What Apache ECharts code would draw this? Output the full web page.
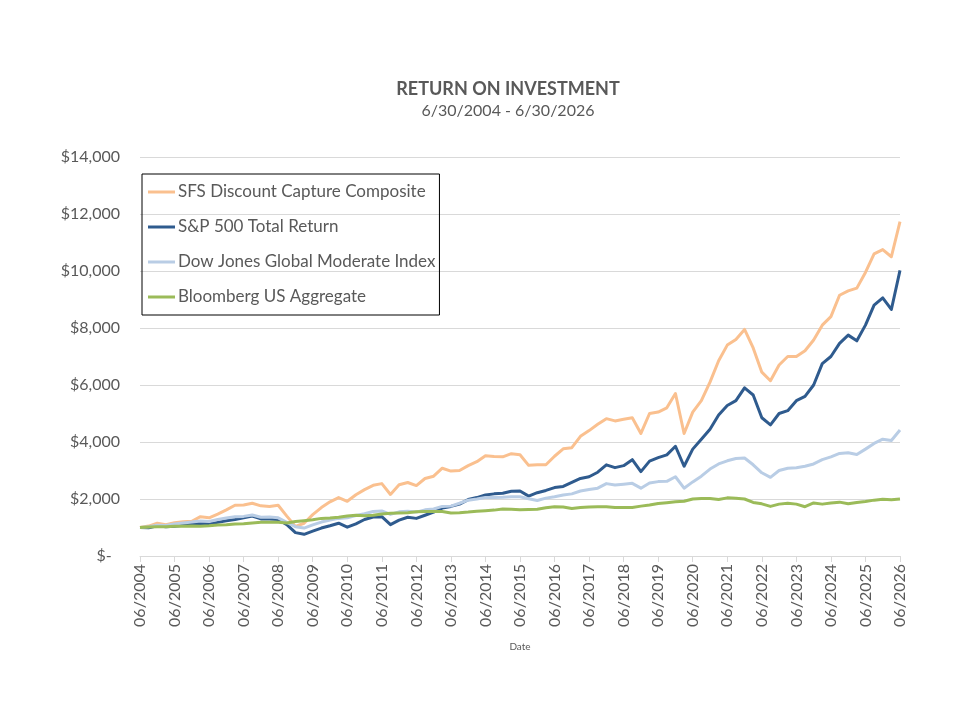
<!DOCTYPE html>
<html>
<head>
<meta charset="utf-8">
<title>Return on Investment</title>
<script src="https://cdn.jsdelivr.net/npm/echarts@6/dist/echarts.min.js"></script>
<style>
  html, body { margin: 0; padding: 0; background: #fff; }
  #chart { width: 960px; height: 720px; }
</style>
</head>
<body>
<div id="chart"></div>
<script>
// quarter-end dates, 06/2004 .. 06/2026
const dates = [];
for (let y = 2004, m = 6; y < 2026 || (y === 2026 && m <= 6); ) {
    dates.push(String(m).padStart(2, '0') + '/' + y);
    m += 3;
    if (m > 12) { m -= 12; y += 1; }
}

// growth of $1,000 (quarterly)
const sfsComposite = [
    1000, 1050,
    1150, 1100, 1170, 1200,   // 2005
    1220, 1380, 1340, 1470,   // 2006
    1620, 1780, 1790, 1850,   // 2007
    1760, 1740, 1780, 1400,   // 2008
    1040, 1150, 1450, 1700,   // 2009
    1900, 2050, 1920, 2150,   // 2010
    2330, 2480, 2540, 2160,   // 2011
    2500, 2580, 2470, 2720,   // 2012
    2800, 3080, 2980, 3000,   // 2013
    3170, 3310, 3520, 3490,   // 2014
    3480, 3590, 3550, 3180,   // 2015
    3200, 3200, 3500, 3760,   // 2016
    3800, 4200, 4400, 4620,   // 2017
    4820, 4740, 4800, 4850,   // 2018
    4300, 5000, 5050, 5200,   // 2019
    5700, 4300, 5050, 5450,   // 2020
    6100, 6850, 7400, 7600,   // 2021
    7950, 7300, 6450, 6150,   // 2022
    6700, 7000, 7000, 7200,   // 2023
    7580, 8100, 8400, 9150,   // 2024
    9300, 9400, 9950, 10600,  // 2025
    10750, 10500, 11730       // 2026
];
const sp500 = [
    1000, 990,
    1060, 1030, 1040, 1080,
    1110, 1140, 1120, 1180,
    1240, 1280, 1340, 1400,
    1300, 1300, 1280, 1100,
    820, 760, 870, 980,
    1060, 1150, 1010, 1130,
    1280, 1370, 1380, 1100,
    1260, 1360, 1320, 1430,
    1540, 1680, 1740, 1820,
    1980, 2050, 2140, 2180,
    2200, 2270, 2280, 2100,
    2220, 2300, 2400, 2440,
    2580, 2720, 2780, 2940,
    3200, 3100, 3170, 3380,
    2960, 3330, 3450, 3550,
    3850, 3150, 3750, 4100,
    4450, 4950, 5280, 5450,
    5900, 5650, 4850, 4600,
    5000, 5100, 5450, 5600,
    6000, 6750, 7000, 7460,
    7750, 7550, 8100, 8800,
    9060, 8650, 10020
];
const djModerate = [
    1000, 1030,
    1080, 1070, 1120, 1160,
    1190, 1230, 1210, 1280,
    1330, 1380, 1390, 1440,
    1360, 1370, 1340, 1180,
    1030, 980, 1090, 1190,
    1260, 1320, 1340, 1420,
    1480, 1560, 1580, 1460,
    1550, 1570, 1540, 1620,
    1650, 1740, 1750, 1850,
    1960, 2000, 2050, 2050,
    2060, 2080, 2080, 2010,
    1950, 2030, 2080, 2140,
    2180, 2280, 2330, 2380,
    2540, 2490, 2520, 2550,
    2380, 2560, 2610, 2620,
    2780, 2380, 2600, 2800,
    3050, 3230, 3340, 3420,
    3440, 3200, 2920, 2760,
    3000, 3080, 3100, 3150,
    3230, 3380, 3480, 3600,
    3620, 3560, 3750, 3950,
    4100, 4050, 4420
];
const bbgAggregate = [
    1000, 1020,
    1030, 1030, 1040, 1040,
    1050, 1040, 1060, 1090,
    1100, 1120, 1130, 1160,
    1180, 1180, 1180, 1160,
    1210, 1240, 1270, 1320,
    1330, 1360, 1400, 1430,
    1410, 1430, 1470, 1500,
    1510, 1520, 1550, 1560,
    1560, 1560, 1510, 1520,
    1540, 1570, 1590, 1610,
    1650, 1640, 1620, 1630,
    1640, 1690, 1730, 1720,
    1670, 1700, 1720, 1730,
    1730, 1700, 1700, 1700,
    1750, 1790, 1840, 1870,
    1900, 1920, 2000, 2020,
    2020, 1980, 2040, 2030,
    2000, 1880, 1830, 1740,
    1820, 1850, 1820, 1730,
    1860, 1820, 1860, 1890,
    1830, 1880, 1910, 1960,
    1990, 1970, 2000
];

const seriesNames = [
    'SFS Discount Capture Composite',
    'S&P 500 Total Return',
    'Dow Jones Global Moderate Index',
    'Bloomberg US Aggregate'
];
const seriesColors = ['#FAC08F', '#2F5B8E', '#B9CDE5', '#9BBB59'];
const seriesData = [sfsComposite, sp500, djModerate, bbgAggregate];

const yTicks = { min: 0, max: 14000, step: 2000 };

const font = 'Lato, "Open Sans", sans-serif';
const chart = echarts.init(document.getElementById('chart'), null, { renderer: 'canvas' });

const isJune = (idx) => idx % 4 === 0;

chart.setOption({
    animation: false,
    textStyle: { fontFamily: font },
    title: {
        text: 'RETURN ON INVESTMENT',
        subtext: '6/30/2004 - 6/30/2026',
        left: 503,
        top: 75,
        textAlign: 'center',
        itemGap: 5,
        textStyle: { fontFamily: font, fontSize: 18, fontWeight: 'bold', color: '#595959' },
        subtextStyle: { fontFamily: font, fontSize: 16, color: '#595959' }
    },
    legend: {
        orient: 'vertical',
        left: 142,
        top: 174,
        padding: [8, 4, 8, 6],
        borderColor: '#000',
        borderWidth: 1,
        itemWidth: 27,
        itemHeight: 3,
        itemGap: 15,
        icon: 'rect',
        textStyle: { fontFamily: font, fontSize: 17, color: '#595959', lineHeight: 20, padding: [0, 0, 0, -2] },
        data: seriesNames
    },
    grid: { left: 140, right: 60, top: 157, bottom: 164, containLabel: false },
    xAxis: {
        type: 'category',
        data: dates,
        boundaryGap: false,
        name: 'Date',
        nameLocation: 'middle',
        nameGap: 86,
        nameTextStyle: { fontFamily: font, fontSize: 10, color: '#595959' },
        axisLine: { lineStyle: { color: '#D9D9D9', width: 1 } },
        axisTick: { show: true, interval: isJune, length: 6, lineStyle: { color: '#D9D9D9' } },
        axisLabel: {
            interval: isJune,
            rotate: 90,
            margin: 8,
            fontFamily: font,
            fontSize: 16,
            color: '#595959'
        },
        splitLine: { show: false }
    },
    yAxis: {
        type: 'value',
        min: yTicks.min,
        max: yTicks.max,
        interval: yTicks.step,
        axisLine: { show: false },
        axisTick: { show: false },
        axisLabel: {
            margin: 20,
            fontFamily: font,
            fontSize: 16,
            color: '#595959',
            formatter: (v) => v === 0 ? '$-  ' : '$' + v.toLocaleString('en-US')
        },
        splitLine: { lineStyle: { color: '#D9D9D9', width: 1 } }
    },
    series: seriesNames.map((name, i) => ({
        name: name,
        type: 'line',
        data: seriesData[i],
        showSymbol: false,
        symbol: 'none',
        smooth: false,
        lineStyle: { color: seriesColors[i], width: 3, join: 'round' },
        itemStyle: { color: seriesColors[i] },
        emphasis: { disabled: true }
    }))
});
</script>
</body>
</html>
